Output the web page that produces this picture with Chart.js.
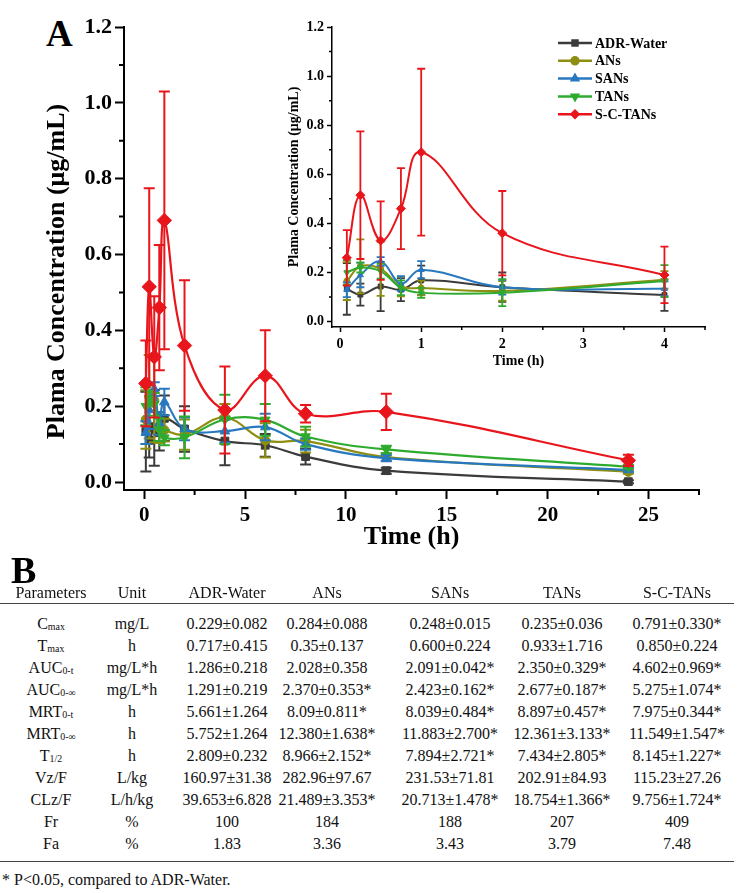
<!DOCTYPE html>
<html><head><meta charset="utf-8">
<script src="https://cdn.jsdelivr.net/npm/chart.js@4.4.1/dist/chart.umd.min.js"></script>
<style>
html,body{margin:0;padding:0;background:#fff;}
body{width:744px;height:893px;position:relative;overflow:hidden;font-family:'Liberation Serif','Times New Roman',serif;color:#111;}
#main{position:absolute;left:0;top:0;}
#inset{position:absolute;left:280px;top:0;}
.lbl{position:absolute;font-weight:bold;line-height:1;color:#000;}
.c{position:absolute;transform:translate(-50%,-50%);white-space:nowrap;font-size:16px;line-height:1;}
.c sub{font-size:0.62em;vertical-align:-0.15em;}
.rule{position:absolute;left:0;width:734px;height:0;border-top:1.6px solid #444;}
#foot{position:absolute;left:2px;font-size:16px;line-height:1;transform:translateY(-50%);white-space:nowrap;}
</style></head><body>
<div class="lbl" style="left:46px;top:15px;font-size:37px">A</div>
<canvas id="main" width="744" height="560"></canvas>
<canvas id="inset" width="440" height="380"></canvas>
<div class="lbl" style="left:11px;top:551px;font-size:38px">B</div>
<div id="tbl"></div>
<script>
// ---------- Data ----------
const times = [0.083, 0.25, 0.5, 0.75, 1, 2, 4, 6, 8, 12, 24];
const adrWater   = [0.133, 0.110, 0.143, 0.130, 0.168, 0.140, 0.108, 0.097, 0.067, 0.030, 0.001];
const adrWaterSD = [0.105, 0.045, 0.100, 0.047, 0.060, 0.060, 0.064, 0.030, 0.021, 0.008, 0.004];
const ans        = [0.165, 0.225, 0.215, 0.143, 0.137, 0.125, 0.170, 0.110, 0.108, 0.066, 0.027];
const ansSD      = [0.077, 0.110, 0.110, 0.040, 0.030, 0.040, 0.036, 0.045, 0.030, 0.010, 0.005];
const sans       = [0.130, 0.190, 0.245, 0.155, 0.211, 0.140, 0.134, 0.145, 0.100, 0.063, 0.032];
const sansSD     = [0.030, 0.050, 0.018, 0.030, 0.035, 0.030, 0.030, 0.035, 0.015, 0.008, 0.005];
const tans       = [0.200, 0.220, 0.205, 0.138, 0.117, 0.118, 0.165, 0.164, 0.120, 0.086, 0.040];
const tansSD     = [0.050, 0.020, 0.030, 0.030, 0.020, 0.055, 0.065, 0.042, 0.026, 0.010, 0.005];
const scTans     = [0.260, 0.515, 0.330, 0.460, 0.690, 0.360, 0.190, 0.280, 0.180, 0.185, 0.057];
const scTansSD   = [0.113, 0.260, 0.160, 0.165, 0.340, 0.172, 0.115, 0.120, 0.023, 0.048, 0.015];
const seriesLabels = ['ADR-Water', 'ANs', 'SANs', 'TANs', 'S-C-TANs'];

const mainXTicks = [0, 5, 10, 15, 20, 25];
const mainYTicks = [0, 0.2, 0.4, 0.6, 0.8, 1.0, 1.2];
const insetXTicks = [0, 1, 2, 3, 4];
const insetYTicks = [0, 0.2, 0.4, 0.6, 0.8, 1.0, 1.2];
const insetMaxTime = 4;

// Table B
const tableHeaders = ['Parameters', 'Unit', 'ADR-Water', 'ANs', 'SANs', 'TANs', 'S-C-TANs'];
const paramNames = ['C', 'T', 'AUC', 'AUC', 'MRT', 'MRT', 'T', 'Vz/F', 'CLz/F', 'Fr', 'Fa'];
const paramSubs  = ['max', 'max', '0-t', '0-∞', '0-t', '0-∞', '1/2', '', '', '', ''];
const paramUnits = ['mg/L', 'h', 'mg/L*h', 'mg/L*h', 'h', 'h', 'h', 'L/kg', 'L/h/kg', '%', '%'];
const colAdrWater = ['0.229±0.082','0.717±0.415','1.286±0.218','1.291±0.219','5.661±1.264','5.752±1.264','2.809±0.232','160.97±31.38','39.653±6.828','100','1.83'];
const colAns      = ['0.284±0.088','0.35±0.137','2.028±0.358','2.370±0.353*','8.09±0.811*','12.380±1.638*','8.966±2.152*','282.96±97.67','21.489±3.353*','184','3.36'];
const colSans     = ['0.248±0.015','0.600±0.224','2.091±0.042*','2.423±0.162*','8.039±0.484*','11.883±2.700*','7.894±2.721*','231.53±71.81','20.713±1.478*','188','3.43'];
const colTans     = ['0.235±0.036','0.933±1.716','2.350±0.329*','2.677±0.187*','8.897±0.457*','12.361±3.133*','7.434±2.805*','202.91±84.93','18.754±1.366*','207','3.79'];
const colScTans   = ['0.791±0.330*','0.850±0.224','4.602±0.969*','5.275±1.074*','7.975±0.344*','11.549±1.547*','8.145±1.227*','115.23±27.26','9.756±1.724*','409','7.48'];
const footnote = '* P<0.05, compared to ADR-Water.';

// ---------- Styling ----------
Chart.defaults.font.family = "'Liberation Serif','Times New Roman',serif";
Chart.defaults.color = '#000';
const seriesValues = [adrWater, ans, sans, tans, scTans];
const seriesSD = [adrWaterSD, ansSD, sansSD, tansSD, scTansSD];
const seriesColors = ['#3b3b3b', '#8e8e12', '#2878c0', '#2eab2e', '#e8161c'];
const seriesPoint = ['rect', 'circle', 'triangle', 'triangle', 'rectRot'];
const seriesRot = [0, 0, 0, 180, 0];
const seriesOrder = [5, 4, 3, 2, 1];

function buildDatasets(maxT, big) {
  return seriesLabels.map((lab, k) => {
    const pts = [], sd = [];
    times.forEach((t, i) => { if (t <= maxT) { pts.push({x: t, y: seriesValues[k][i]}); sd.push(seriesSD[k][i]); } });
    const baseR = big ? 5.5 : 3.5;
    const r = seriesPoint[k] === 'rectRot' ? (big ? 7.2 : 4.5) : (seriesPoint[k] === 'circle' ? (big ? 4.6 : 3) : baseR);
    return {
      label: lab, data: pts, errors: sd,
      borderColor: seriesColors[k], backgroundColor: seriesColors[k],
      pointStyle: seriesPoint[k], pointRotation: seriesRot[k], pointRadius: r,
      pointBorderWidth: 1, borderWidth: big ? 2.2 : 2, tension: 0.4, fill: false,
      order: seriesOrder[k]
    };
  });
}

const errorBars = {
  id: 'errorBars',
  afterDatasetDraw(chart, args, opts) {
    const ds = chart.data.datasets[args.index];
    if (!ds.errors) return;
    const ctx = chart.ctx, xs = chart.scales.x, ys = chart.scales.y, a = chart.chartArea;
    ctx.save();
    ctx.beginPath(); ctx.rect(a.left, a.top - 2, a.right - a.left, a.bottom - a.top + 2); ctx.clip();
    ctx.strokeStyle = ds.borderColor; ctx.lineWidth = opts.width;
    ds.data.forEach((p, i) => {
      const x = xs.getPixelForValue(p.x);
      const yt = ys.getPixelForValue(p.y + ds.errors[i]);
      const yb = ys.getPixelForValue(p.y - ds.errors[i]);
      ctx.beginPath();
      ctx.moveTo(x, yt); ctx.lineTo(x, yb);
      ctx.moveTo(x - opts.cap, yt); ctx.lineTo(x + opts.cap, yt);
      ctx.moveTo(x - opts.cap, yb); ctx.lineTo(x + opts.cap, yb);
      ctx.stroke();
    });
    ctx.restore();
  }
};

function minorsOf(majors, max) {
  const out = [];
  const step = majors[1] - majors[0];
  for (let i = 0; i < majors.length; i++) {
    const m = majors[i] + step / 2;
    if (m <= max + 1e-9) out.push(m);
  }
  return out;
}

const minorTicks = {
  id: 'minorTicks',
  afterDraw(chart, args, opts) {
    const {ctx, chartArea: a, scales: {x, y}} = chart;
    ctx.save(); ctx.strokeStyle = '#000'; ctx.lineWidth = opts.width;
    ctx.beginPath();
    opts.xMinor.forEach(v => { const px = x.getPixelForValue(v); ctx.moveTo(px, a.bottom); ctx.lineTo(px, a.bottom + opts.len); });
    opts.yMinor.forEach(v => { const py = y.getPixelForValue(v); ctx.moveTo(a.left, py); ctx.lineTo(a.left - opts.len, py); });
    ctx.stroke(); ctx.restore();
  }
};

const customLegend = {
  id: 'customLegend',
  afterDraw(chart, args, opts) {
    if (!opts.show) return;
    const ctx = chart.ctx, a = chart.chartArea;
    const x0 = a.right - opts.fromRight, y0 = a.top + opts.fromTop;
    ctx.save();
    ctx.font = 'bold 14px ' + Chart.defaults.font.family;
    ctx.textBaseline = 'middle'; ctx.textAlign = 'left';
    const dsByLabel = seriesLabels.map(l => chart.data.datasets.find(d => d.label === l));
    dsByLabel.forEach((ds, i) => {
      const y = y0 + i * opts.gap;
      ctx.strokeStyle = ds.borderColor; ctx.lineWidth = 2.5;
      ctx.beginPath(); ctx.moveTo(x0, y); ctx.lineTo(x0 + opts.lineLen, y); ctx.stroke();
      ctx.fillStyle = ds.backgroundColor;
      Chart.helpers.drawPoint(ctx, {pointStyle: ds.pointStyle, rotation: ds.pointRotation, borderWidth: 1, radius: 3.5}, x0 + opts.lineLen / 2, y);
      ctx.fill();
      ctx.fillStyle = '#000';
      ctx.fillText(ds.label, x0 + opts.lineLen + 3, y + 1);
    });
    ctx.restore();
  }
};

function axisCfg(o) {
  return {
    type: 'linear', min: o.min, max: o.max,
    afterBuildTicks: s => { s.ticks = o.ticks.map(v => ({value: v})); },
    afterFit: s => { if (o.width !== undefined) s.width = o.width; if (o.height !== undefined) s.height = o.height; },
    ticks: {font: {size: o.fs, weight: 'bold'}, color: '#000', padding: o.pad, callback: o.fmt},
    grid: {display: true, drawOnChartArea: false, drawTicks: true, tickLength: o.tl, tickWidth: o.lw, tickColor: '#000'},
    border: {display: true, color: '#000', width: o.lw},
    title: {display: true, text: o.title, color: '#000', font: {size: o.tfs, weight: 'bold'}, padding: o.tpad}
  };
}

new Chart(document.getElementById('main'), {
  type: 'line',
  data: {datasets: buildDatasets(Infinity, true)},
  options: {
    responsive: false, animation: false, devicePixelRatio: 1,
    layout: {autoPadding: false, padding: {left: 0, top: 27, right: 45, bottom: 0}},
    plugins: {legend: {display: false}, tooltip: {enabled: false},
      errorBars: {width: 2, cap: 5.5},
      minorTicks: {width: 2, len: 5, xMinor: minorsOf(mainXTicks, 27.5), yMinor: minorsOf(mainYTicks, 1.2)},
      customLegend: {show: false}},
    scales: {
      x: axisCfg({min: -1, max: 27.5, ticks: mainXTicks, height: 70, fs: 21, pad: 4, tl: 9, lw: 2,
        fmt: v => String(v), title: 'Time (h)', tfs: 26, tpad: {top: 0, bottom: 7}}),
      y: axisCfg({min: -0.021, max: 1.2, ticks: mainYTicks, width: 124, fs: 22, pad: 3, tl: 9, lw: 2,
        fmt: v => v.toFixed(1), title: 'Plama Concentration (μg/mL)\u00a0\u00a0\u00a0\u00a0', tfs: 26, tpad: {top: 42, bottom: 0}})
    }
  },
  plugins: [errorBars, minorTicks, customLegend]
});

new Chart(document.getElementById('inset'), {
  type: 'line',
  data: {datasets: buildDatasets(insetMaxTime, false)},
  options: {
    responsive: false, animation: false, devicePixelRatio: 1,
    layout: {autoPadding: false, padding: {left: 0, top: 27, right: 15, bottom: 0}},
    plugins: {legend: {display: false}, tooltip: {enabled: false},
      errorBars: {width: 1.8, cap: 4},
      minorTicks: {width: 1.5, len: 3, xMinor: minorsOf(insetXTicks, 4.5), yMinor: minorsOf(insetYTicks, 1.2)},
      customLegend: {show: true, fromRight: 147, fromTop: 16, gap: 17.8, lineLen: 34}},
    scales: {
      x: axisCfg({min: -0.1, max: 4.5, ticks: insetXTicks, height: 53, fs: 14, pad: 4, tl: 5, lw: 1.5,
        fmt: v => String(v), title: 'Time (h)', tfs: 14, tpad: {top: 0, bottom: 10}}),
      y: axisCfg({min: -0.022, max: 1.2, ticks: insetYTicks, width: 52, fs: 14, pad: 3, tl: 5, lw: 1.5,
        fmt: v => v.toFixed(1), title: 'Plama Concentration (μg/mL)', tfs: 14, tpad: {top: 6, bottom: 0}})
    }
  },
  plugins: [errorBars, minorTicks, customLegend]
});

// ---------- Table B ----------
(function () {
  const tbl = document.getElementById('tbl');
  const colX = [51, 132, 227, 327, 450, 562, 677];
  const headerY = 593, firstRowY = 624, rowGap = 22;
  function cell(html, x, y) {
    const d = document.createElement('div'); d.className = 'c';
    d.style.left = x + 'px'; d.style.top = y + 'px'; d.innerHTML = html; tbl.appendChild(d);
  }
  function rule(y) {
    const d = document.createElement('div'); d.className = 'rule'; d.style.top = y + 'px'; tbl.appendChild(d);
  }
  tableHeaders.forEach((h, j) => cell(h, colX[j], headerY));
  rule(603);
  const cols = [colAdrWater, colAns, colSans, colTans, colScTans];
  paramNames.forEach((p, i) => {
    const y = firstRowY + i * rowGap;
    cell(p + (paramSubs[i] ? '<sub>' + paramSubs[i] + '</sub>' : ''), colX[0], y);
    cell(paramUnits[i], colX[1], y);
    cols.forEach((c, j) => cell(c[i], colX[j + 2], y));
  });
  rule(861);
  const f = document.createElement('div'); f.id = 'foot'; f.style.top = '880px'; f.textContent = footnote; tbl.appendChild(f);
})();
</script>
</body></html>
